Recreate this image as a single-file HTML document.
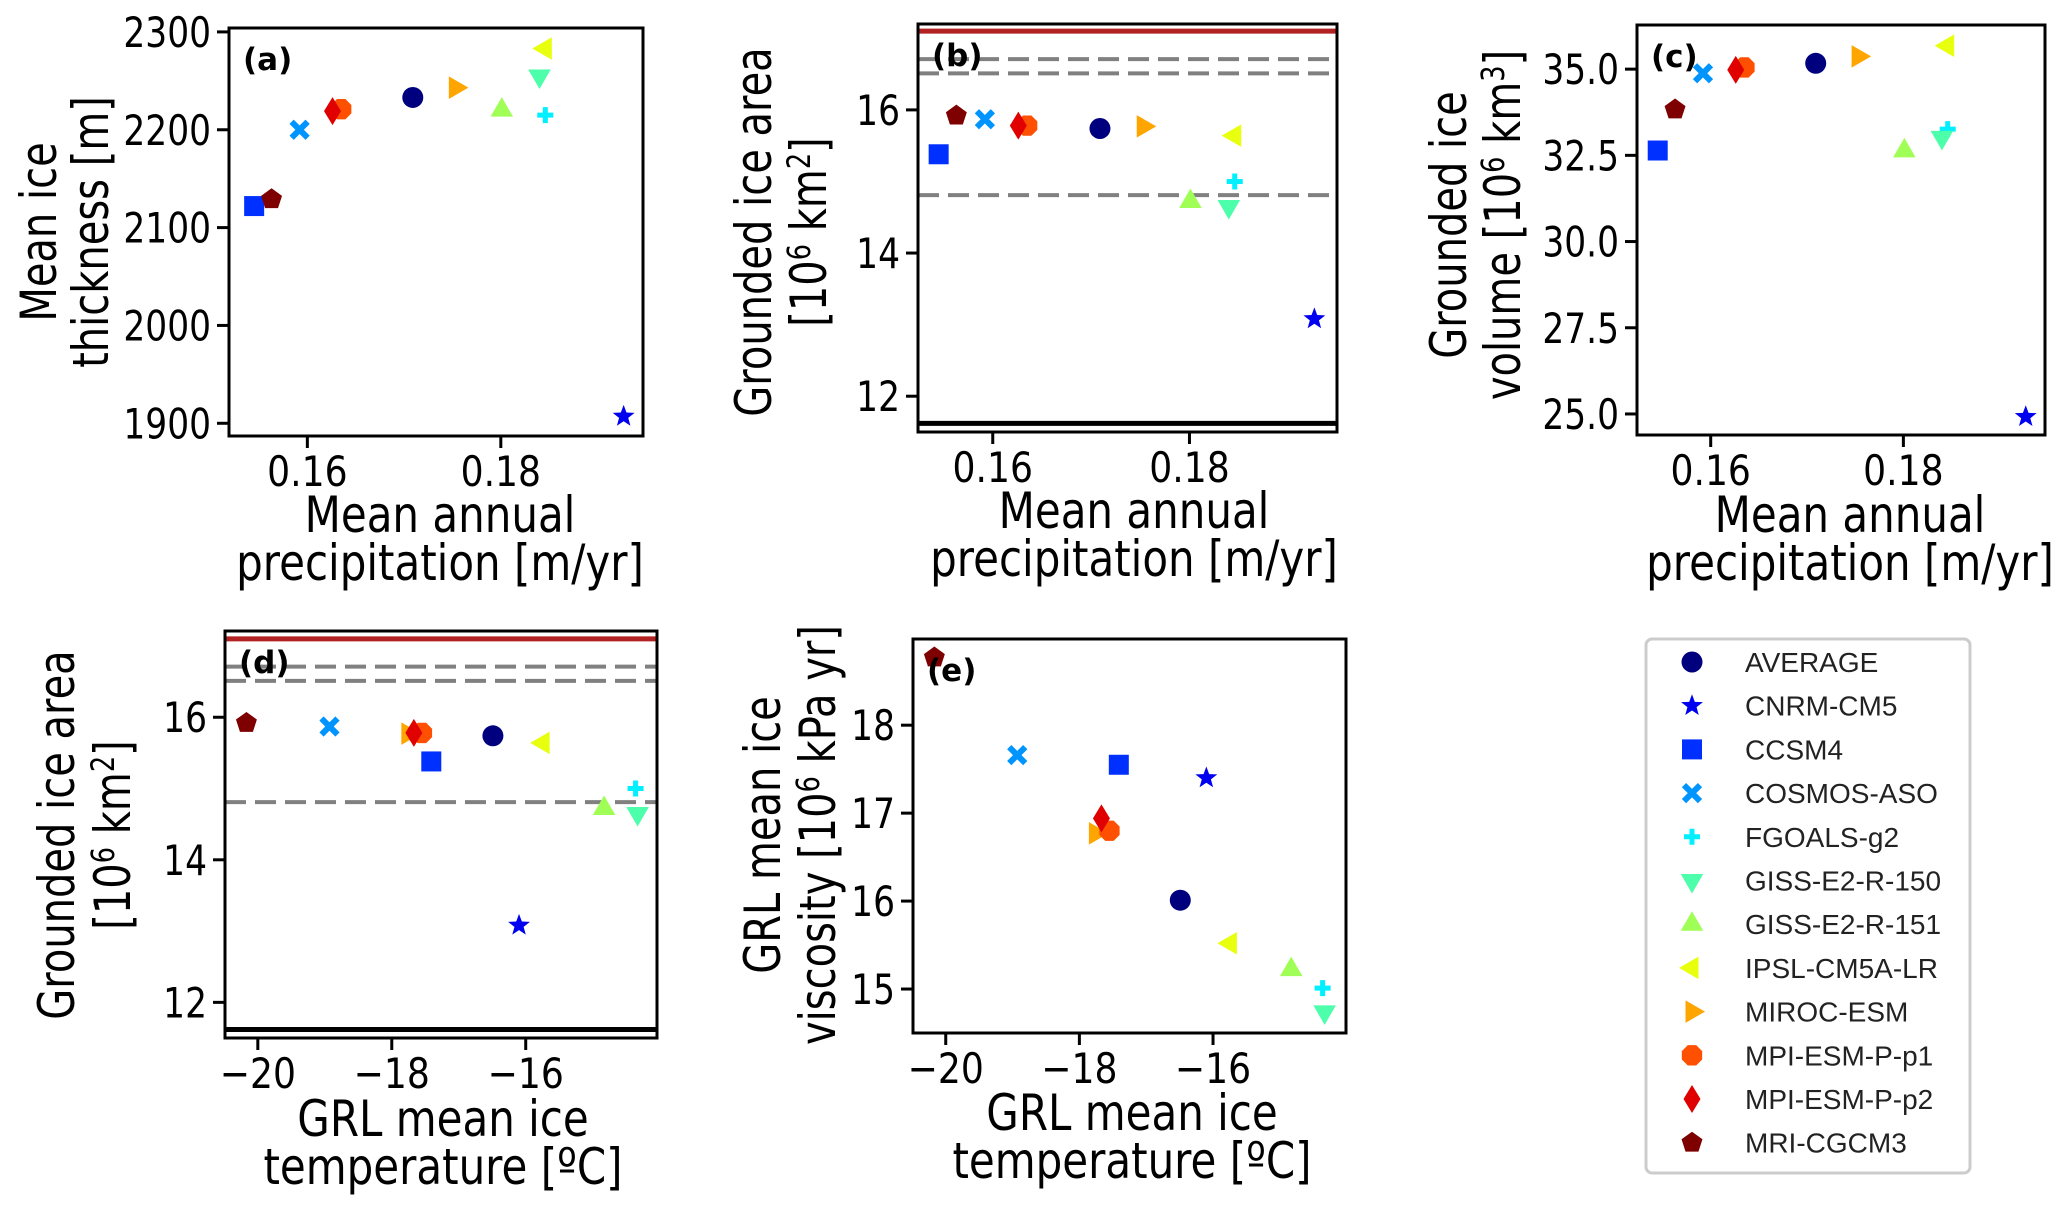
<!DOCTYPE html>
<html><head><meta charset="utf-8">
<style>
html,body{margin:0;padding:0;background:#fff;}
svg{display:block;}
text{font-family:"DejaVu Sans","Liberation Sans",sans-serif;fill:#000;}
.leg{font-family:"Liberation Sans","DejaVu Sans",sans-serif;fill:#222;}
</style></head>
<body>
<svg id="fig" xmlns="http://www.w3.org/2000/svg" width="2067" height="1205" viewBox="0 0 2067 1205"></svg>
<script>
// ---- data (order: AVERAGE, CNRM-CM5, CCSM4, COSMOS-ASO, FGOALS-g2, GISS-E2-R-150, GISS-E2-R-151, IPSL-CM5A-LR, MIROC-ESM, MPI-ESM-P-p1, MPI-ESM-P-p2, MRI-CGCM3)
const models = ["AVERAGE","CNRM-CM5","CCSM4","COSMOS-ASO","FGOALS-g2","GISS-E2-R-150","GISS-E2-R-151","IPSL-CM5A-LR","MIROC-ESM","MPI-ESM-P-p1","MPI-ESM-P-p2","MRI-CGCM3"];
const precip = [0.1709,0.1927,0.1545,0.1592,0.1846,0.1840,0.1801,0.1846,0.1753,0.1635,0.1626,0.1563];
const thickness = [2233,1907,2122,2200,2215,2255,2220,2283,2243,2221,2219,2129];
const area = [15.74,13.08,15.38,15.87,15.0,14.65,14.72,15.64,15.77,15.78,15.78,15.92];
const volume = [35.17,24.92,32.64,34.88,33.26,33.02,32.63,35.68,35.37,35.05,34.98,33.83];
const temperature = [-16.49,-16.1,-17.41,-18.93,-14.36,-14.33,-14.83,-15.74,-17.76,-17.55,-17.67,-20.17];
const viscosity = [16.01,17.4,17.55,17.66,15.01,14.74,15.22,15.52,16.77,16.8,16.94,18.77];
const refSolid = [17.1, 11.62];
const refDashed = [16.71, 16.51, 14.81];
const precipTicks = [0.16, 0.18];
const precipTickLabels = ["0.16","0.18"];
const thickTicks = [1900,2000,2100,2200,2300];
const thickTickLabels = ["1900","2000","2100","2200","2300"];
const areaTicks = [12,14,16];
const areaTickLabels = ["12","14","16"];
const volTicks = [25,27.5,30,32.5,35];
const volTickLabels = ["25.0","27.5","30.0","32.5","35.0"];
const tempTicks = [-20,-18,-16];
const tempTickLabels = ["\u221220","\u221218","\u221216"];
const viscTicks = [15,16,17,18];
const viscTickLabels = ["15","16","17","18"];

const colors = ["#00007f","#0000f1","#0030ff","#0094ff","#00f0ff","#4dffaa","#a0ff56","#e8ff0e","#ffa500","#ff4f00","#e00000","#7f0000"];
const shapes = ["circle","star","square","x","plus","tridown","triup","trileft","triright","octagon","diamond","pentagon"];

const NS="http://www.w3.org/2000/svg";
const svg=document.getElementById('fig');
function el(tag,attrs,parent){const e=document.createElementNS(NS,tag);for(const k in attrs)e.setAttribute(k,attrs[k]);(parent||svg).appendChild(e);return e;}
function poly(n,r,rot){const p=[];for(let i=0;i<n;i++){const a=rot+i*2*Math.PI/n;p.push((r*Math.cos(a)).toFixed(2)+','+(r*Math.sin(a)).toFixed(2));}return p.join(' ');}
function marker(g,shape,x,y,c){
  let m;
  const t=`translate(${x},${y})`;
  switch(shape){
    case "circle": m=el('circle',{cx:x,cy:y,r:10.5,fill:c},g);break;
    case "square": m=el('rect',{x:x-10,y:y-10,width:20,height:20,fill:c},g);break;
    case "x": m=el('path',{d:`M${x-8},${y-8}L${x+8},${y+8}M${x-8},${y+8}L${x+8},${y-8}`,stroke:c,'stroke-width':6,fill:'none'},g);break;
    case "plus": m=el('path',{d:`M${x-8},${y}L${x+8},${y}M${x},${y-8}L${x},${y+8}`,stroke:c,'stroke-width':5,fill:'none'},g);break;
    case "triup": m=el('polygon',{points:poly(3,13,-Math.PI/2),transform:t,fill:c},g);break;
    case "tridown": m=el('polygon',{points:poly(3,13,Math.PI/2),transform:t,fill:c},g);break;
    case "trileft": m=el('polygon',{points:poly(3,13,Math.PI),transform:t,fill:c},g);break;
    case "triright": m=el('polygon',{points:poly(3,13,0),transform:t,fill:c},g);break;
    case "octagon": m=el('polygon',{points:poly(8,11,Math.PI/8),transform:t,fill:c},g);break;
    case "pentagon": m=el('polygon',{points:poly(5,11,-Math.PI/2),transform:t,fill:c},g);break;
    case "diamond": m=el('polygon',{points:`0,-14 8.5,0 0,14 -8.5,0`,transform:t,fill:c},g);break;
    case "star": {const p=[];for(let i=0;i<10;i++){const r=i%2?4.8:11.5;const a=-Math.PI/2+i*Math.PI/5;p.push((r*Math.cos(a)).toFixed(2)+','+(r*Math.sin(a)).toFixed(2));}
      m=el('polygon',{points:p.join(' '),transform:t,fill:c},g);break;}
  }
  return m;
}
function stext(g,str,x,y,size,anchor,sx,extra){
  const w=el('g',{transform:`translate(${x},${y}) scale(${sx},1)`},g);
  const tx=el('text',Object.assign({x:0,y:0,'font-size':size,'text-anchor':anchor},extra||{}),w);
  tx.textContent=str;return tx;
}
function panel(cfg){
  const g=el('g',{});
  
  
  const {L,R,T,B}=cfg.box;
  const sx=v=>L+(v-cfg.xd[0])/(cfg.xd[1]-cfg.xd[0])*(R-L);
  const sy=v=>B-(v-cfg.yd[0])/(cfg.yd[1]-cfg.yd[0])*(B-T);
  if(cfg.refs){
    const rl=el('line',{x1:L,x2:R,y1:sy(refSolid[0]),y2:sy(refSolid[0]),stroke:'#b22222','stroke-width':5},g);
    
    
    const bl=el('line',{x1:L,x2:R,y1:sy(refSolid[1]),y2:sy(refSolid[1]),stroke:'#000','stroke-width':5},g);
    
    
    refDashed.forEach(v=>{
      const dl=el('line',{x1:L,x2:R,y1:sy(v),y2:sy(v),stroke:'#808080','stroke-width':4,'stroke-dasharray':'21 9'},g);
      
      
    });
  }
  cfg.xs.forEach((xv,i)=>{
    const m=marker(g,shapes[i],sx(xv),sy(cfg.ys[i]),colors[i]);
    
    
  });
  const fr=el('rect',{x:L,y:T,width:R-L,height:B-T,fill:'none',stroke:'#000','stroke-width':3},g);
  
  
  cfg.xt.forEach((v,i)=>{
    const x=sx(v);
    el('line',{x1:x,x2:x,y1:B,y2:B+12,stroke:'#000','stroke-width':3},g);
    const t=stext(g,cfg.xtl[i],x,B+50,42,'middle',0.86);
    
    
  });
  cfg.yt.forEach((v,i)=>{
    const y=sy(v);
    el('line',{x1:L-12,x2:L,y1:y,y2:y,stroke:'#000','stroke-width':3},g);
    const t=stext(g,cfg.ytl[i],L-18,y+15,42,'end',0.82);
    
    
  });
  const pl=stext(g,cfg.letter,L+14,T+42,31,'start',1,{'font-weight':'bold'});
  
  
  const cx=cfg.xl.cx;
  const x1=stext(g,cfg.xl.l1,cx,cfg.xl.y1,50,'middle',0.84);
  
  
  const x2=stext(g,cfg.xl.l2,cx,cfg.xl.y2,50,'middle',0.84);
  
  
  const yg=el('g',{transform:`translate(${cfg.yl.x1},${cfg.yl.cy}) rotate(-90)`},g);
  const y1=stext(yg,cfg.yl.l1,0,0,50,'middle',0.8);
  
  
  const yg2=el('g',{transform:`translate(${cfg.yl.x2},${cfg.yl.cy}) rotate(-90)`},g);
  const y2=stext(yg2,'',0,0,50,'middle',0.8);
  y2.innerHTML=cfg.yl.l2;
  
  
}
const precipXL={l1:"Mean annual",l2:"precipitation [m/yr]"};
panel({name:'panel-a-thickness',letter:'(a)',box:{L:229,R:643,T:28,B:436},xd:[0.1519,0.1947],yd:[1887,2304],
  xs:precip,ys:thickness,xt:precipTicks,xtl:precipTickLabels,yt:thickTicks,ytl:thickTickLabels,
  xl:Object.assign({cx:440,y1:532,y2:580},precipXL),yl:{x1:56,x2:108,cy:232,l1:"Mean ice",l2:"thickness [m]"}});
panel({name:'panel-b-area',letter:'(b)',box:{L:918,R:1337,T:24,B:432},xd:[0.1524,0.195],yd:[11.5,17.2],refs:true,
  xs:precip,ys:area,xt:precipTicks,xtl:precipTickLabels,yt:areaTicks,ytl:areaTickLabels,
  xl:Object.assign({cx:1134,y1:528,y2:576},precipXL),yl:{x1:771,x2:826,cy:232,l1:"Grounded ice area",l2:'[10<tspan dy="-16" font-size="32">6</tspan><tspan dy="16"> km</tspan><tspan dy="-16" font-size="32">2</tspan><tspan dy="16">]</tspan>'}});
panel({name:'panel-c-volume',letter:'(c)',box:{L:1637,R:2045,T:25,B:435},xd:[0.15235,0.1947],yd:[24.39,36.28],
  xs:precip,ys:volume,xt:precipTicks,xtl:precipTickLabels,yt:volTicks,ytl:volTickLabels,
  xl:Object.assign({cx:1850,y1:532,y2:580},precipXL),yl:{x1:1466,x2:1520,cy:225,l1:"Grounded ice",l2:'volume [10<tspan dy="-16" font-size="32">6</tspan><tspan dy="16"> km</tspan><tspan dy="-16" font-size="32">3</tspan><tspan dy="16">]</tspan>'}});
const tempXL={l1:"GRL mean ice",l2:"temperature [\u00baC]"};
panel({name:'panel-d-area-temperature',letter:'(d)',box:{L:225,R:657,T:631,B:1038},xd:[-20.49,-14.04],yd:[11.5,17.21],refs:true,
  xs:temperature,ys:area,xt:tempTicks,xtl:tempTickLabels,yt:areaTicks,ytl:areaTickLabels,
  xl:Object.assign({cx:443,y1:1136,y2:1184},tempXL),yl:{x1:74,x2:130,cy:835,l1:"Grounded ice area",l2:'[10<tspan dy="-16" font-size="32">6</tspan><tspan dy="16"> km</tspan><tspan dy="-16" font-size="32">2</tspan><tspan dy="16">]</tspan>'}});
panel({name:'panel-e-viscosity',letter:'(e)',box:{L:913,R:1346,T:639,B:1033},xd:[-20.49,-14.01],yd:[14.5,18.98],
  xs:temperature,ys:viscosity,xt:tempTicks,xtl:tempTickLabels,yt:viscTicks,ytl:viscTickLabels,
  xl:Object.assign({cx:1132,y1:1130,y2:1178},tempXL),yl:{x1:780,x2:835,cy:835,l1:"GRL mean ice",l2:'viscosity [10<tspan dy="-16" font-size="32">6</tspan><tspan dy="16"> kPa yr]</tspan>'}});
const lg=el('g',{});


el('rect',{x:1646,y:639,width:324,height:534,rx:6,fill:'#fff',stroke:'#ccc','stroke-width':3},lg);
models.forEach((m,i)=>{
  const y=662+i*43.7;
  const mk=marker(lg,shapes[i],1692,y,colors[i]);
  
  
  const t=el('text',{x:1745,y:y+10,'font-size':28,class:'leg'},lg);
  t.textContent=m;
  
  
});
</script>
</body></html>
